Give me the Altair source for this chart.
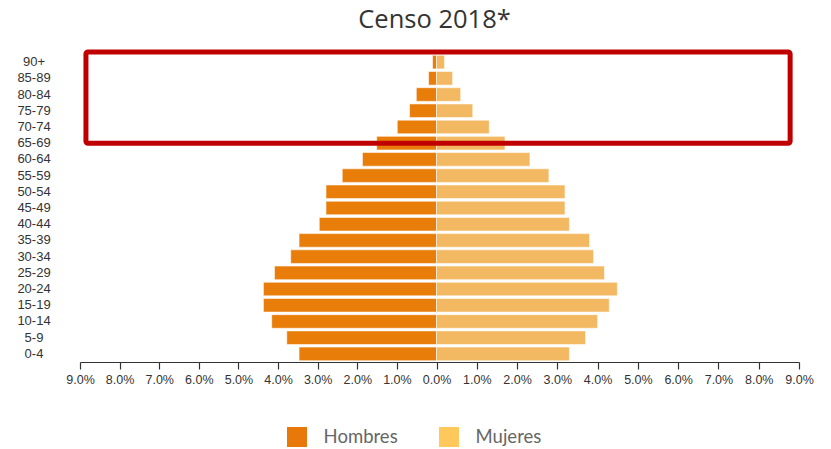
import altair as alt
import pandas as pd

ages = ["90+", "85-89", "80-84", "75-79", "70-74", "65-69", "60-64", "55-59",
        "50-54", "45-49", "40-44", "35-39", "30-34", "25-29", "20-24", "15-19",
        "10-14", "5-9", "0-4"]
hombres = [0.10, 0.20, 0.51, 0.68, 0.99, 1.51, 1.87, 2.38, 2.79, 2.79, 2.96,
           3.47, 3.68, 4.09, 4.37, 4.37, 4.16, 3.78, 3.47]
mujeres = [0.20, 0.40, 0.60, 0.90, 1.31, 1.70, 2.32, 2.79, 3.19, 3.19, 3.30,
           3.80, 3.90, 4.17, 4.49, 4.29, 4.00, 3.70, 3.30]
tick_values = [-9, -8, -7, -6, -5, -4, -3, -2, -1, 0, 1, 2, 3, 4, 5, 6, 7, 8, 9]
sexos = ["Hombres", "Mujeres"]
bar_colors = ["#E87D0A", "#F3B962"]
legend_colors = ["#E8780A", "#FFC85A"]

rows = []
for a, h, m in zip(ages, hombres, mujeres):
    rows.append({"edad": a, "sexo": "Hombres", "valor": -h})
    rows.append({"edad": a, "sexo": "Mujeres", "valor": m})
df = pd.DataFrame(rows)

box = pd.DataFrame({"x1": [-8.85], "x2": [8.78]})

xscale = alt.Scale(domain=[-9, 0, 9], range=[0, 356.5, 719])
yscale = alt.Scale(domain=ages, paddingInner=0.16, paddingOuter=0.08)

xaxis = alt.Axis(values=tick_values, title=None, grid=False,
                 labelExpr="format(abs(datum.value), '.1f') + '%'",
                 labelFont="Liberation Sans", labelFontSize=12.5,
                 labelColor="#333333", tickColor="#333333",
                 domainColor="#333333", tickSize=7, tickWidth=1.2,
                 ticks=True, labelPadding=4, labelOverlap=False,
                 labelFlush=False)
yaxis = alt.Axis(title=None, domain=False, ticks=False,
                 labelAlign="center", labelPadding=46.5,
                 labelFont="Liberation Sans", labelFontSize=13,
                 labelColor="#333333")

bars = alt.Chart(df).mark_bar(stroke="#FFFFFF", strokeWidth=0.8, strokeOpacity=0.7).encode(
    x=alt.X("valor:Q", scale=xscale, axis=xaxis),
    y=alt.Y("edad:N", scale=yscale, sort=ages, axis=yaxis),
    color=alt.Color("sexo:N", scale=alt.Scale(domain=sexos, range=bar_colors), legend=None),
)

legend_layer = alt.Chart(df).mark_square(opacity=1).encode(
    x=alt.X("valor:Q", scale=xscale, axis=xaxis),
    y=alt.Y("edad:N", scale=yscale, sort=ages, axis=yaxis),
    color=alt.Color("sexo:N", scale=alt.Scale(domain=sexos, range=legend_colors),
                    legend=alt.Legend(title=None, orient="none", direction="horizontal",
                                      legendX=207, legendY=373,
                                      symbolType="square", symbolSize=400,
                                      symbolStrokeWidth=0, labelOffset=16.6,
                                      columnPadding=41, labelFont="Lato",
                                      labelFontSize=18.5, labelColor="#666666")),
).transform_filter("false")

frame = alt.Chart(box).mark_rect(fill=None, stroke="#C00000", strokeWidth=5,
                                 cornerRadius=2).encode(
    x=alt.X("x1:Q", scale=xscale, axis=xaxis),
    x2="x2:Q",
    y=alt.value(-2),
    y2=alt.value(89.2),
)

chart = alt.layer(bars, legend_layer, frame).resolve_scale(color="independent").properties(
    width=719, height=308,
    autosize=alt.AutoSizeParams(type="none"),
    padding={"left": 72, "top": 46, "right": 24, "bottom": 87},
    title=alt.Title("Censo 2018*", font="Open Sans", fontSize=25.5, fontWeight="normal",
                    color="#333333", offset=16, dx=-5),
).configure_view(stroke=None).configure_axisX(
    labelOverlap=False, ticks=True, tickSize=7, tickColor="#333333", tickWidth=1.2
)

chart.save("out.html", embed_options={"renderer": "svg", "actions": False})
